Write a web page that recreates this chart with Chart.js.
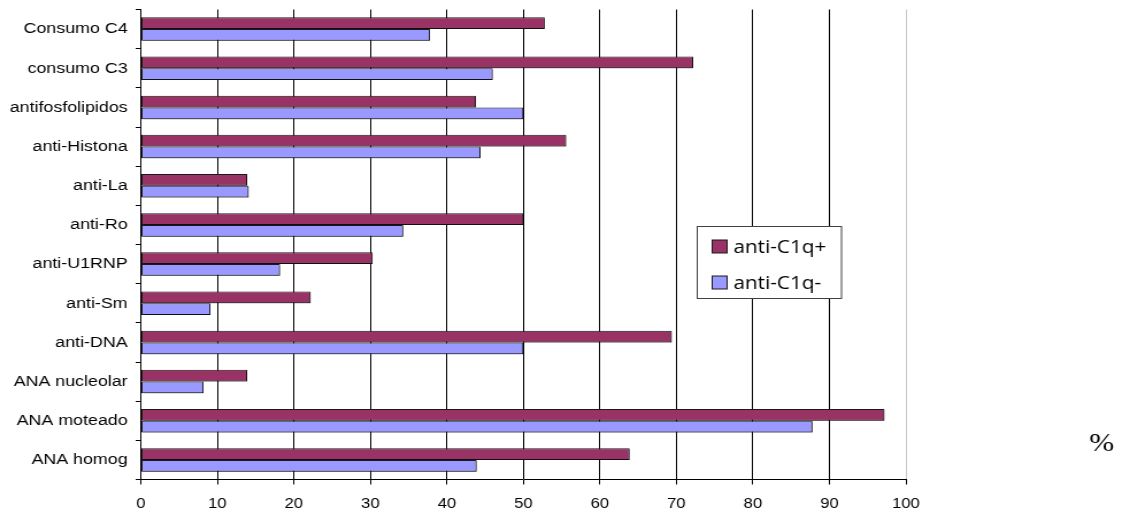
<!DOCTYPE html>
<html>
<head>
<meta charset="utf-8">
<script src="https://cdn.jsdelivr.net/npm/chart.js@4/dist/chart.umd.min.js"></script>
<style>
  html, body { margin: 0; padding: 0; background: #fff; overflow: hidden; }
  #chart { display: block; }
</style>
</head>
<body>
<!-- the drawing surface is stretched horizontally to the page width -->
<canvas id="chart" width="976" height="515" style="width:1122px;height:515px"></canvas>
<script>
// Categories, top to bottom
const categories = [
  'Consumo C4', 'consumo C3', 'antifosfolipidos', 'anti-Histona', 'anti-La',
  'anti-Ro', 'anti-U1RNP', 'anti-Sm', 'anti-DNA', 'ANA nucleolar',
  'ANA moteado', 'ANA homog'
];
// Percentage of patients positive for each finding
const antiC1qPos = [52.8, 72.2, 43.8, 55.6, 13.9, 50.0, 30.3, 22.2, 69.4, 13.9, 97.2, 63.9];
const antiC1qNeg = [37.8, 46.0, 50.0, 44.4, 14.1, 34.3, 18.2, 9.1, 50.0, 8.2, 87.8, 43.9];
const seriesNames = ['anti-C1q+', 'anti-C1q-'];
const xTicks = [0, 10, 20, 30, 40, 50, 60, 70, 80, 90, 100];
const unitLabel = '%';

const colorPos = '#993366';
const colorNeg = '#9999FF';

// Thin drop shadow behind the bars
const barShadow = {
  id: 'barShadow',
  beforeDatasetsDraw(chart) {
    const ctx = chart.ctx;
    ctx.save();
    ctx.shadowColor = 'rgba(0,0,0,0.35)';
    ctx.shadowOffsetX = 1.2;
    ctx.shadowOffsetY = 1.2;
    ctx.shadowBlur = 0;
  },
  afterDatasetsDraw(chart) {
    chart.ctx.restore();
  }
};

// Boxed legend inside the plot, plus the unit label at the right
const boxLegend = {
  id: 'boxLegend',
  afterDraw(chart) {
    const ctx = chart.ctx;
    ctx.save();
    const bx = 606.5, by = 226.5, bw = 125.5, bh = 72;
    ctx.fillStyle = '#ffffff';
    ctx.fillRect(bx, by, bw, bh);
    ctx.strokeStyle = '#404040';
    ctx.lineWidth = 1;
    ctx.strokeRect(bx, by, bw, bh);
    const rows = [
      { name: seriesNames[0], color: colorPos, cy: 246.5 },
      { name: seriesNames[1], color: colorNeg, cy: 282.5 }
    ];
    ctx.font = '18px "Open Sans", Lato, sans-serif';
    ctx.textBaseline = 'middle';
    ctx.textAlign = 'left';
    rows.forEach(r => {
      ctx.fillStyle = r.color;
      ctx.fillRect(619.5, r.cy - 6.5, 13, 13);
      ctx.strokeStyle = '#1a1a1a';
      ctx.strokeRect(619.5, r.cy - 6.5, 13, 13);
      ctx.fillStyle = '#000';
      ctx.fillText(r.name, 638, r.cy + 1);
    });
    ctx.font = '26px "Liberation Serif", "Times New Roman", serif';
    ctx.textAlign = 'center';
    ctx.fillText(unitLabel, 958.3, 444);
    ctx.restore();
  }
};

new Chart(document.getElementById('chart'), {
  type: 'bar',
  data: {
    labels: categories,
    datasets: [
      {
        label: seriesNames[0],
        data: antiC1qPos,
        backgroundColor: colorPos,
        borderColor: '#1a1a1a',
        borderWidth: 1,
        borderSkipped: false,
        categoryPercentage: 0.6,
        barPercentage: 1.0
      },
      {
        label: seriesNames[1],
        data: antiC1qNeg,
        backgroundColor: colorNeg,
        borderColor: '#1a1a1a',
        borderWidth: 1,
        borderSkipped: false,
        categoryPercentage: 0.6,
        barPercentage: 1.0
      }
    ]
  },
  options: {
    indexAxis: 'y',
    responsive: false,
    animation: false,
    devicePixelRatio: 1,
    layout: { padding: { left: 0, right: 188, top: 9.5, bottom: 0 } },
    plugins: {
      legend: { display: false },
      tooltip: { enabled: false }
    },
    scales: {
      x: {
        min: 0,
        max: 100,
        afterFit(scale) { scale.height = 35.5; },
        afterBuildTicks(scale) { scale.ticks = xTicks.map(v => ({ value: v })); },
        ticks: {
          color: '#000',
          padding: 11,
          maxRotation: 0,
          font: { family: '"Liberation Sans", Arial, sans-serif', size: 14.5 }
        },
        grid: {
          color: ctx => (ctx.tick && ctx.tick.value === 100) ? '#c8c8c8' : '#000',
          tickColor: '#000',
          tickLength: 5,
          lineWidth: 1
        },
        border: { color: '#000', width: 1 }
      },
      y: {
        afterFit(scale) {
          scale.width = 122.5;
          scale.paddingTop = 0;
          scale.paddingBottom = 0;
        },
        ticks: {
          color: '#000',
          padding: 7,
          font: { family: '"Liberation Sans", Arial, sans-serif', size: 15.5 }
        },
        grid: {
          drawOnChartArea: false,
          drawTicks: true,
          tickLength: 4.5,
          tickColor: '#000',
          offset: true
        },
        border: { color: '#000', width: 1 }
      }
    }
  },
  plugins: [barShadow, boxLegend]
});
</script>
</body>
</html>
